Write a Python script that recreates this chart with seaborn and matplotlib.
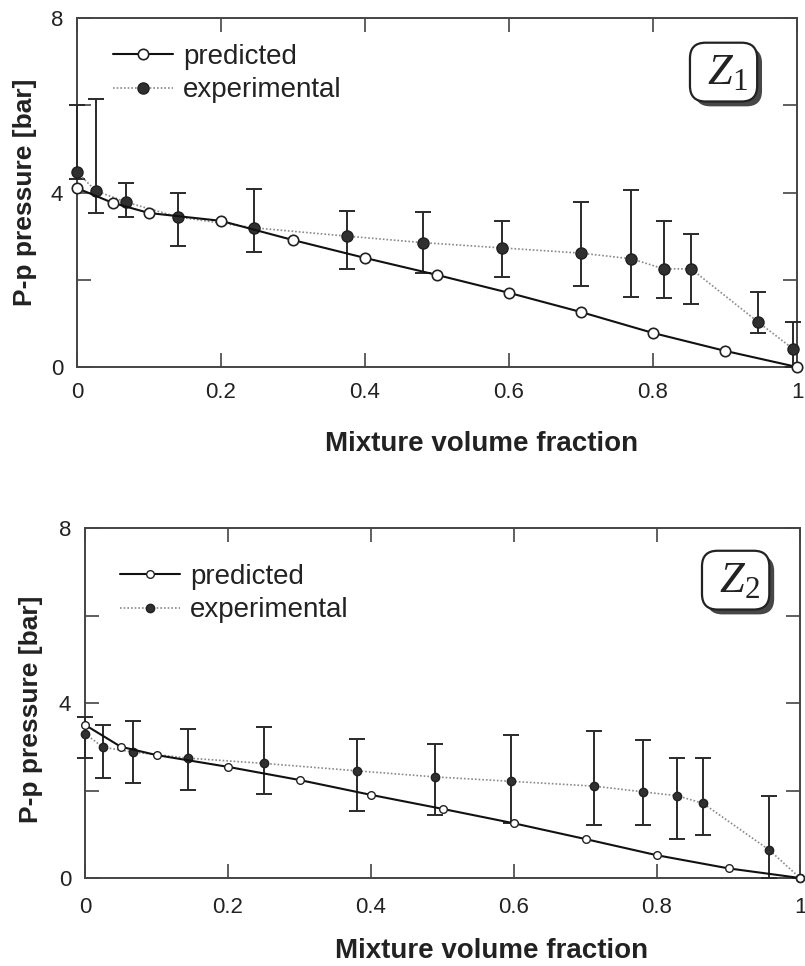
import numpy as np
import matplotlib
matplotlib.use("Agg")
import matplotlib.pyplot as plt
import matplotlib.patheffects as pe
import seaborn as sns

# Predicted pressure (model) at regular mixture fractions
x_pred = [0.0, 0.05, 0.1, 0.2, 0.3, 0.4, 0.5, 0.6, 0.7, 0.8, 0.9, 1.0]
z1_pred = [4.10, 3.76, 3.53, 3.35, 2.91, 2.50, 2.11, 1.70, 1.26, 0.78, 0.37, 0.0]
z2_pred = [3.50, 3.00, 2.81, 2.54, 2.24, 1.90, 1.58, 1.25, 0.89, 0.52, 0.22, 0.0]

# Measured pressure with min/max spread, zone Z1
z1_x = [0.0, 0.026, 0.068, 0.14, 0.246, 0.375, 0.481, 0.59, 0.70, 0.77, 0.815, 0.853, 0.946, 0.995]
z1_exp = [4.47, 4.04, 3.78, 3.44, 3.19, 3.00, 2.85, 2.73, 2.61, 2.48, 2.25, 2.25, 1.03, 0.41]
z1_hi = [6.00, 6.15, 4.22, 3.99, 4.08, 3.58, 3.56, 3.35, 3.78, 4.06, 3.35, 3.05, 1.72, 1.03]
z1_lo = [4.30, 3.53, 3.44, 2.78, 2.63, 2.24, 2.15, 2.07, 1.86, 1.61, 1.58, 1.44, 0.78, 0.0]

# Measured pressure with min/max spread, zone Z2
z2_x = [0.0, 0.025, 0.067, 0.144, 0.25, 0.38, 0.49, 0.596, 0.712, 0.78, 0.828, 0.864, 0.957, 1.0]
z2_exp = [3.30, 2.99, 2.88, 2.74, 2.62, 2.45, 2.31, 2.21, 2.10, 1.97, 1.88, 1.71, 0.64, 0.0]
z2_hi = [3.68, 3.50, 3.59, 3.40, 3.46, 3.17, 3.06, 3.27, 3.37, 3.15, 2.74, 2.74, 1.88, 0.0]
z2_lo = [2.74, 2.29, 2.17, 2.01, 1.91, 1.53, 1.44, 1.26, 1.21, 1.21, 0.89, 0.98, 0.0, 0.0]

x_ticks = [0, 0.2, 0.4, 0.6, 0.8, 1.0]
x_ticklabels = ["0", "0.2", "0.4", "0.6", "0.8", "1"]
y_ticks = [0, 2, 4, 6, 8]
y_ticklabels = ["0", "", "4", "", "8"]

sns.set_theme(style="ticks")
plt.rcParams["font.family"] = ["Liberation Sans", "DejaVu Sans"]
plt.rcParams["mathtext.fontset"] = "custom"
plt.rcParams["mathtext.it"] = "Liberation Serif:italic"
plt.rcParams["mathtext.rm"] = "Liberation Serif"

fig = plt.figure(figsize=(8.05, 9.66), dpi=100)
ax1 = fig.add_axes([77 / 805, 1 - 367 / 966, 720 / 805, 349 / 966])
ax2 = fig.add_axes([85 / 805, 1 - 878 / 966, 715 / 805, 350 / 966])

panels = [
    dict(ax=ax1, pred=z1_pred, ex=z1_x, ey=z1_exp, hi=z1_hi, lo=z1_lo,
         tag=r"$\;\mathit{Z}_{\mathit{1}}\;$", tagpos=(0.898, 0.845),
         ms_p=7.5, ms_e=8, leg=(0.05, 0.925), xl=(0.5625, -0.183), yl=(-0.0556, 0.5),
         xpad=11, mew=1.2),
    dict(ax=ax2, pred=z2_pred, ex=z2_x, ey=z2_exp, hi=z2_hi, lo=z2_lo,
         tag=r"$\;\mathit{Z}_{\mathit{2}}\;$", tagpos=(0.910, 0.851),
         ms_p=5.5, ms_e=6, leg=(0.049, 0.897), xl=(0.568, -0.172), yl=(-0.0587, 0.483),
         xpad=14, mew=1.0),
]

edge = "#444444"
for p in panels:
    ax = p["ax"]
    ey = np.array(p["ey"])
    yerr = [ey - np.array(p["lo"]), np.array(p["hi"]) - ey]

    # experimental: dotted grey connecting line, filled dark markers
    sns.lineplot(x=p["ex"], y=p["ey"], ax=ax, color="#8a8a8a", linestyle=(0, (1, 1.2)),
                 linewidth=1.2, marker="o", markersize=p["ms_e"], markerfacecolor="#303030",
                 markeredgecolor="#202020", markeredgewidth=1.0, label="experimental",
                 clip_on=False, zorder=4)
    ax.errorbar(p["ex"], p["ey"], yerr=yerr, fmt="none", ecolor="#2a2a2a",
                elinewidth=1.4, capsize=6, capthick=1.4, clip_on=False, zorder=3)
    # predicted: solid black line, open circles
    sns.lineplot(x=x_pred, y=p["pred"], ax=ax, color="#111111", linewidth=1.5,
                 marker="o", markersize=p["ms_p"], markerfacecolor="white",
                 markeredgecolor="#222222", markeredgewidth=p["mew"], label="predicted",
                 clip_on=False, zorder=5)

    ax.set_xlim(0, 1)
    ax.set_ylim(0, 8)
    ax.set_xticks(x_ticks)
    ax.set_xticklabels(x_ticklabels)
    ax.set_yticks(y_ticks)
    ax.set_yticklabels(y_ticklabels)
    ax.tick_params(axis="both", direction="in", length=10, width=1.2, color=edge,
                   top=True, right=True, labelsize=16, labelcolor="#222222")
    ax.tick_params(axis="x", pad=p["xpad"])
    ax.tick_params(axis="y", pad=10)
    for s in ax.spines.values():
        s.set_color(edge)
        s.set_linewidth(1.4)
        s.set_visible(True)

    ax.set_xlabel("Mixture volume fraction", fontsize=20, fontweight="bold", color="#222222")
    ax.set_ylabel("P-p pressure [bar]", fontsize=19, fontweight="bold", color="#222222")
    ax.xaxis.set_label_coords(*p["xl"])
    ax.yaxis.set_label_coords(*p["yl"])

    handles, labels = ax.get_legend_handles_labels()
    order = [labels.index("predicted"), labels.index("experimental")]
    leg = ax.legend([handles[i] for i in order], [labels[i] for i in order],
                    loc="upper left", bbox_to_anchor=p["leg"], frameon=False,
                    fontsize=20, handlelength=2.15, handletextpad=0.36,
                    labelspacing=0.26, borderpad=0, borderaxespad=0)
    for t in leg.get_texts():
        t.set_color("#222222")

    # zone tag in a rounded, shadowed box
    tag = ax.text(*p["tagpos"], p["tag"], transform=ax.transAxes, ha="center", va="center",
                  fontsize=32, color="#222222", zorder=6,
                  bbox=dict(boxstyle="round,pad=0.2,rounding_size=0.35", fc="white",
                            ec="#222222", lw=1.6))
    tag.get_bbox_patch().set_path_effects([
        pe.SimplePatchShadow(offset=(3.5, -3.5), shadow_rgbFace="#333333", alpha=0.9),
        pe.Normal()])

fig.savefig("out.png", dpi=100, facecolor="white")
